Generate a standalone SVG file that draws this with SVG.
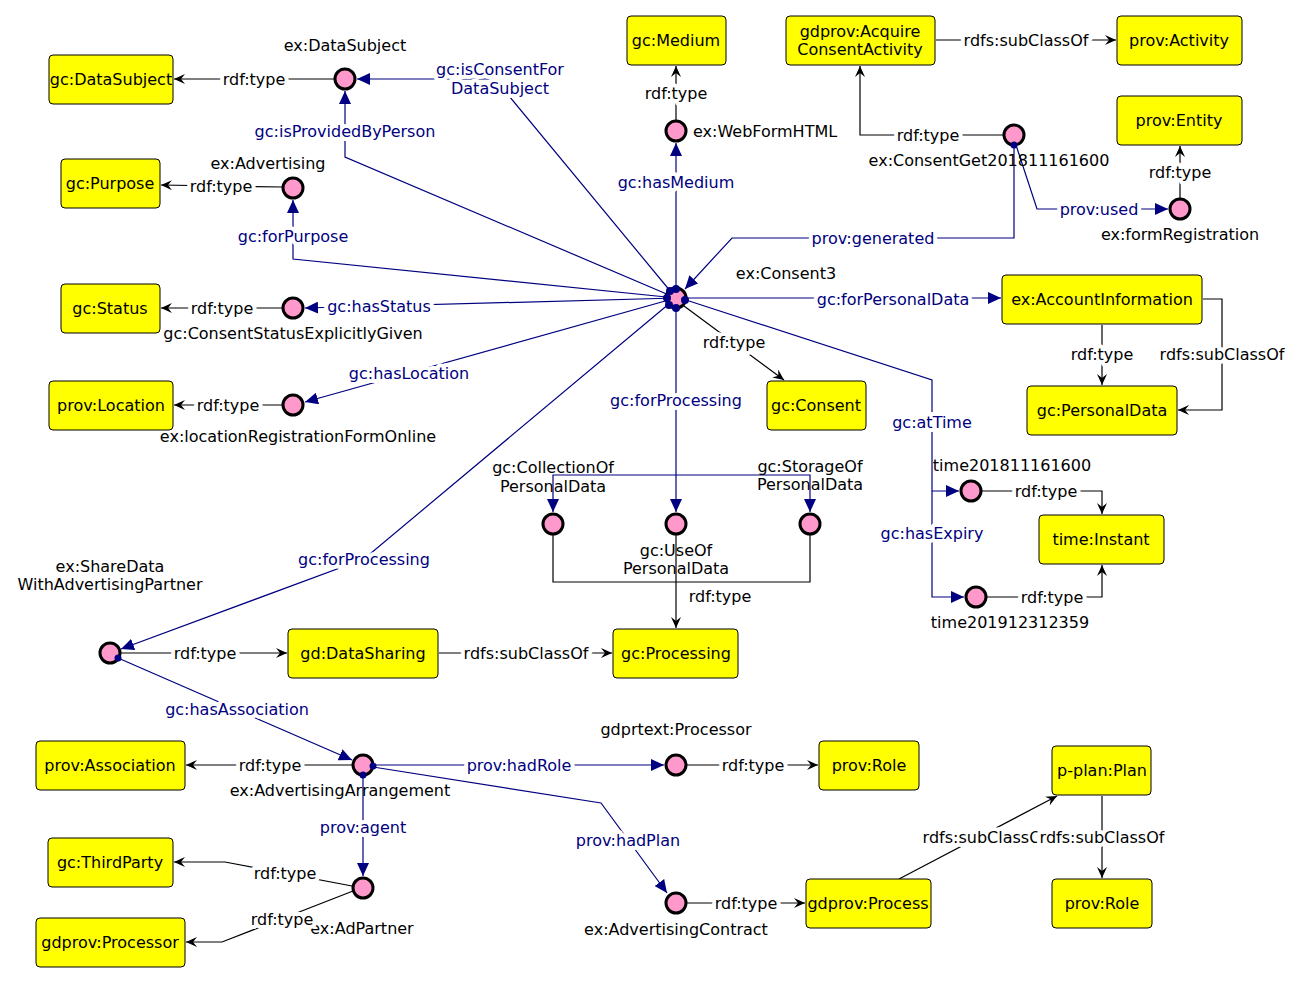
<svg xmlns="http://www.w3.org/2000/svg" width="1302" height="983" viewBox="0 0 1302 983">
<style>
text{font-family:"DejaVu Sans","Liberation Sans",sans-serif;font-size:16px;text-anchor:middle;dominant-baseline:central;fill:#000}
.b{fill:#000080}
.el{paint-order:stroke;stroke:#fff;stroke-width:8px;stroke-linejoin:round}
.box{fill:#ffff00;stroke:#000;stroke-width:1}
.c{fill:#ff99cc;stroke:#000;stroke-width:3}
.ek{fill:none;stroke:#000;stroke-width:1.2;marker-end:url(#ak)}
.en{fill:none;stroke:#000;stroke-width:1.2}
.eb{fill:none;stroke:#000080;stroke-width:1.2;marker-end:url(#an)}
.ebn{fill:none;stroke:#000080;stroke-width:1.2}
.p{fill:#000080}
</style>
<defs>
<marker id="ak" markerWidth="12" markerHeight="10" refX="11" refY="5" orient="auto" markerUnits="userSpaceOnUse"><path d="M0,0 L11,5 L0,10 L4,5 z" fill="#000"/></marker>
<marker id="an" markerWidth="14" markerHeight="12" refX="13" refY="6" orient="auto" markerUnits="userSpaceOnUse"><path d="M0,0 L13,6 L0,12 z" fill="#000080"/></marker>
</defs>
<rect width="1302" height="983" fill="#fff"/>
<g id="connectors">
<path class="ek" d="M334,79 L174,79"/>
<path class="ek" d="M282,187 L161,185"/>
<path class="ek" d="M282,308 L161,308"/>
<path class="ek" d="M282,405 L174,405"/>
<path class="ek" d="M676,120 L676,66"/>
<path class="ek" d="M1003,135 L860,135 L860,66"/>
<path class="ek" d="M936,40 L1116,40"/>
<path class="ek" d="M1180,198 L1180,146"/>
<path class="ek" d="M684,306 L784,380"/>
<path class="ek" d="M1102,325 L1102,385"/>
<path class="ek" d="M1203,299 L1222,299 L1222,410 L1178,410"/>
<path class="ek" d="M982,491 L1102,491 L1102,514"/>
<path class="ek" d="M987,597 L1102,597 L1102,565"/>
<path class="ek" d="M676,535 L676,628"/>
<path class="en" d="M553,535 L553,582 L810,582 L810,535"/>
<path class="ek" d="M121,653 L287,653"/>
<path class="ek" d="M439,653 L612,653"/>
<path class="ek" d="M352,765 L186,765"/>
<path class="ek" d="M687,765 L818,765"/>
<path class="ek" d="M687,903 L805,903"/>
<path class="ek" d="M899,879 L1057,796"/>
<path class="ek" d="M1102,796 L1102,878"/>
<path class="ek" d="M352,886 L225,862 L174,862"/>
<path class="ek" d="M353,891 L222,942 L186,942"/>
<path class="eb" d="M676,298 L495,79 L357,79"/>
<path class="eb" d="M676,298 L345,157 L345,91"/>
<path class="eb" d="M676,298 L293,259 L293,200"/>
<path class="eb" d="M676,298 L305,308"/>
<path class="eb" d="M676,298 L305,402"/>
<path class="eb" d="M676,298 L364,559 L121,649"/>
<path class="eb" d="M676,298 L676,143"/>
<path class="eb" d="M1014,145 L1014,238 L732,238 L685,289"/>
<path class="eb" d="M1016,145 L1037,209 L1168,209"/>
<path class="eb" d="M686,298 L1001,298"/>
<path class="eb" d="M686,300 L932,380 L932,491 L959,491"/>
<path class="eb" d="M932,491 L932,597 L964,597"/>
<path class="eb" d="M676,308 L676,512"/>
<path class="eb" d="M676,475 L553,475 L553,512"/>
<path class="eb" d="M676,475 L810,475 L810,512"/>
<path class="eb" d="M118,658 L352,760"/>
<path class="eb" d="M373,765 L664,765"/>
<path class="eb" d="M373,767 L601,803 L667,893"/>
<path class="eb" d="M363,775 L363,876"/>
</g>
<g id="n-gcDataSubject"><rect class="box" x="49" y="55" width="124" height="49" rx="4"/><text x="111" y="79">gc:DataSubject</text></g>
<g id="n-exDataSubject"><circle class="c" cx="345" cy="79" r="10"/><text x="345" y="45">ex:DataSubject</text></g>
<g id="n-gcPurpose"><rect class="box" x="61" y="159" width="99" height="49" rx="4"/><text x="110" y="183">gc:Purpose</text></g>
<g id="n-exAdvertising"><circle class="c" cx="293" cy="188" r="10"/><text x="268" y="163">ex:Advertising</text></g>
<g id="n-gcStatus"><rect class="box" x="61" y="284" width="99" height="49" rx="4"/><text x="110" y="308">gc:Status</text></g>
<g id="n-consentStatus"><circle class="c" cx="293" cy="308" r="10"/><text x="293" y="333">gc:ConsentStatusExplicitlyGiven</text></g>
<g id="n-provLocation"><rect class="box" x="49" y="381" width="124" height="49" rx="4"/><text x="111" y="405">prov:Location</text></g>
<g id="n-locationForm"><circle class="c" cx="293" cy="405" r="10"/><text x="298" y="436">ex:locationRegistrationFormOnline</text></g>
<g id="n-gcMedium"><rect class="box" x="627" y="16" width="99" height="49" rx="4"/><text x="676" y="40">gc:Medium</text></g>
<g id="n-webForm"><circle class="c" cx="676" cy="131" r="10"/><text x="693" y="131" style="text-anchor:start">ex:WebFormHTML</text></g>
<g id="n-acquire"><rect class="box" x="786" y="16" width="149" height="49" rx="4"/><text x="860" y="31">gdprov:Acquire</text><text x="860" y="49">ConsentActivity</text></g>
<g id="n-provActivity"><rect class="box" x="1117" y="16" width="125" height="49" rx="4"/><text x="1179" y="40">prov:Activity</text></g>
<g id="n-provEntity"><rect class="box" x="1117" y="96" width="125" height="49" rx="4"/><text x="1179" y="120">prov:Entity</text></g>
<g id="n-consentGet"><circle class="c" cx="1014" cy="135" r="10"/><text x="989" y="160">ex:ConsentGet201811161600</text></g>
<g id="n-formReg"><circle class="c" cx="1180" cy="209" r="10"/><text x="1180" y="234">ex:formRegistration</text></g>
<g id="n-consent3"><circle class="c" cx="676" cy="298" r="10"/><text x="786" y="273">ex:Consent3</text></g>
<g id="n-gcConsent"><rect class="box" x="767" y="381" width="99" height="49" rx="4"/><text x="816" y="405">gc:Consent</text></g>
<g id="n-accountInfo"><rect class="box" x="1002" y="275" width="200" height="49" rx="4"/><text x="1102" y="299">ex:AccountInformation</text></g>
<g id="n-personalData"><rect class="box" x="1027" y="386" width="150" height="49" rx="4"/><text x="1102" y="410">gc:PersonalData</text></g>
<g id="n-time1"><circle class="c" cx="971" cy="491" r="10"/><text x="1012" y="465">time201811161600</text></g>
<g id="n-time2"><circle class="c" cx="976" cy="597" r="10"/><text x="1010" y="622">time201912312359</text></g>
<g id="n-timeInstant"><rect class="box" x="1039" y="515" width="125" height="49" rx="4"/><text x="1101" y="539">time:Instant</text></g>
<g id="n-collection"><circle class="c" cx="553" cy="524" r="10"/><text x="553" y="467">gc:CollectionOf</text><text x="553" y="486">PersonalData</text></g>
<g id="n-use"><circle class="c" cx="676" cy="524" r="10"/><text x="676" y="550">gc:UseOf</text><text x="676" y="568">PersonalData</text></g>
<g id="n-storage"><circle class="c" cx="810" cy="524" r="10"/><text x="810" y="466">gc:StorageOf</text><text x="810" y="484">PersonalData</text></g>
<g id="n-gcProcessing"><rect class="box" x="613" y="629" width="125" height="49" rx="4"/><text x="676" y="653">gc:Processing</text></g>
<g id="n-shareData"><circle class="c" cx="110" cy="653" r="10"/><text x="110" y="566">ex:ShareData</text><text x="110" y="584">WithAdvertisingPartner</text></g>
<g id="n-dataSharing"><rect class="box" x="288" y="629" width="150" height="49" rx="4"/><text x="363" y="653">gd:DataSharing</text></g>
<g id="n-provAssociation"><rect class="box" x="36" y="741" width="149" height="49" rx="4"/><text x="110" y="765">prov:Association</text></g>
<g id="n-arrangement"><circle class="c" cx="363" cy="765" r="10"/><text x="340" y="790">ex:AdvertisingArrangement</text></g>
<g id="n-gdprtextProcessor"><circle class="c" cx="676" cy="765" r="10"/><text x="676" y="729">gdprtext:Processor</text></g>
<g id="n-provRole1"><rect class="box" x="819" y="741" width="100" height="49" rx="4"/><text x="869" y="765">prov:Role</text></g>
<g id="n-contract"><circle class="c" cx="676" cy="903" r="10"/><text x="676" y="929">ex:AdvertisingContract</text></g>
<g id="n-gdprovProcess"><rect class="box" x="806" y="879" width="125" height="49" rx="4"/><text x="868" y="903">gdprov:Process</text></g>
<g id="n-pplanPlan"><rect class="box" x="1052" y="746" width="99" height="49" rx="4"/><text x="1102" y="770">p-plan:Plan</text></g>
<g id="n-provRole2"><rect class="box" x="1052" y="879" width="100" height="49" rx="4"/><text x="1102" y="903">prov:Role</text></g>
<g id="n-adPartner"><circle class="c" cx="363" cy="888" r="10"/><text x="362" y="928">ex:AdPartner</text></g>
<g id="n-thirdParty"><rect class="box" x="48" y="838" width="125" height="49" rx="4"/><text x="110" y="862">gc:ThirdParty</text></g>
<g id="n-gdprovProcessor"><rect class="box" x="36" y="918" width="149" height="49" rx="4"/><text x="110" y="942">gdprov:Processor</text></g>
<g id="ports">
<circle class="p" cx="676" cy="289" r="4"/><circle class="p" cx="667" cy="298" r="4"/><circle class="p" cx="676" cy="308" r="4"/><circle class="p" cx="685" cy="300" r="4"/><circle class="p" cx="670" cy="291" r="4"/><circle class="p" cx="669" cy="305" r="4"/>
<circle class="p" cx="1014" cy="145" r="3.5"/><circle class="p" cx="118" cy="658" r="3.5"/><circle class="p" cx="373" cy="766" r="3.5"/><circle class="p" cx="363" cy="775" r="3.5"/>
</g>
<g id="edge-labels">
<text class="el" x="254" y="79">rdf:type</text>
<text class="el b" x="500" y="69">gc:isConsentFor</text>
<text class="el b" x="500" y="88">DataSubject</text>
<text class="el b" x="345" y="131">gc:isProvidedByPerson</text>
<text class="el" x="221" y="186">rdf:type</text>
<text class="el b" x="293" y="236">gc:forPurpose</text>
<text class="el" x="222" y="308">rdf:type</text>
<text class="el b" x="379" y="306">gc:hasStatus</text>
<text class="el b" x="409" y="373">gc:hasLocation</text>
<text class="el" x="228" y="405">rdf:type</text>
<text class="el b" x="364" y="559">gc:forProcessing</text>
<text class="el" x="676" y="93">rdf:type</text>
<text class="el b" x="676" y="182">gc:hasMedium</text>
<text class="el" x="928" y="135">rdf:type</text>
<text class="el" x="1026" y="40">rdfs:subClassOf</text>
<text class="el" x="1180" y="172">rdf:type</text>
<text class="el b" x="1099" y="209">prov:used</text>
<text class="el b" x="873" y="238">prov:generated</text>
<text class="el b" x="893" y="299">gc:forPersonalData</text>
<text class="el" x="734" y="342">rdf:type</text>
<text class="el b" x="676" y="400">gc:forProcessing</text>
<text class="el" x="1102" y="354">rdf:type</text>
<text class="el" x="1222" y="354">rdfs:subClassOf</text>
<text class="el b" x="932" y="422">gc:atTime</text>
<text class="el b" x="932" y="533">gc:hasExpiry</text>
<text class="el" x="1046" y="491">rdf:type</text>
<text class="el" x="1052" y="597">rdf:type</text>
<text class="el" x="720" y="596">rdf:type</text>
<text class="el" x="205" y="653">rdf:type</text>
<text class="el" x="526" y="653">rdfs:subClassOf</text>
<text class="el b" x="237" y="709">gc:hasAssociation</text>
<text class="el" x="270" y="765">rdf:type</text>
<text class="el b" x="519" y="765">prov:hadRole</text>
<text class="el" x="753" y="765">rdf:type</text>
<text class="el b" x="628" y="840">prov:hadPlan</text>
<text class="el" x="746" y="903">rdf:type</text>
<text class="el" x="985" y="837">rdfs:subClassOf</text>
<text class="el" x="1102" y="837">rdfs:subClassOf</text>
<text class="el b" x="363" y="827">prov:agent</text>
<text class="el" x="285" y="873">rdf:type</text>
<text class="el" x="282" y="919">rdf:type</text>
</g>
</svg>
